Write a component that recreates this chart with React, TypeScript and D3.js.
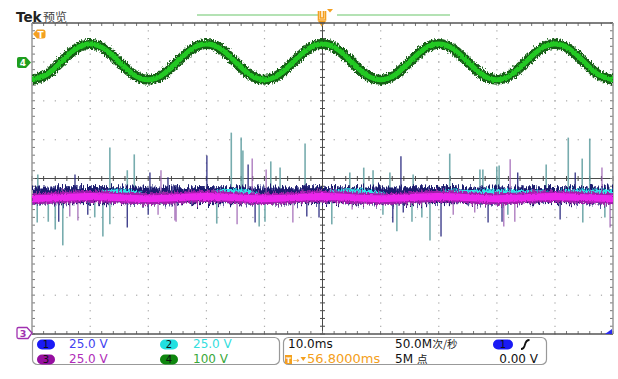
import React from 'react';
import * as d3 from 'd3';

// sample times (ms) for the traces, 10 ms/div, 10 divisions
const sampleTimes = [
  0, 2.5, 5, 7.5, 10, 12.5, 15, 17.5, 20, 22.5, 25, 27.5, 30, 32.5, 35, 37.5, 40,
  42.5, 45, 47.5, 50, 52.5, 55, 57.5, 60, 62.5, 65, 67.5, 70, 72.5, 75, 77.5, 80,
  82.5, 85, 87.5, 90, 92.5, 95, 97.5, 100,
];

// channel 4 (green), volts, 100 V/div, positioned +3 div
const ch4Volts = [
  -46, -33, 0, 33, 46, 33, 0, -33, -46, -33, 0, 33, 46, 33, 0, -33, -46,
  -33, 0, 33, 46, 33, 0, -33, -46, -33, 0, 33, 46, 33, 0, -33, -46,
  -33, 0, 33, 46, 33, 0, -33, -46,
];

// channel 2 (cyan) band level, volts, 25 V/div
const ch2Volts = [
  -12, -12, -12, -12, -12, -9, -8.5, -9, -12, -12, -12, -12, -11, -8.5, -8.3, -9, -12,
  -12, -12, -12, -10, -8.5, -8.3, -8.5, -10, -12, -12, -11, -9.5, -8.5, -9, -8.5, -8.5,
  -8.7, -9, -9, -9.5, -8.5, -8.5, -8.5, -8.7,
];

// coarser samples for channel 1 (navy) and channel 3 (magenta) bands
const coarseTimes = [0, 5, 10, 15, 20, 25, 30, 35, 40, 45, 50, 55, 60, 65, 70, 75, 80, 85, 90, 95, 100];
const ch1Volts = [-11, -10.8, -10.6, -10.8, -11, -10.8, -10.6, -10.8, -11, -10.8, -10.6, -10.8, -11, -10.8, -10.6, -10.8, -11, -10.8, -10.6, -10.8, -11];
const ch3Volts = [-13, -12.3, -11.5, -12.3, -13, -12.3, -11.5, -12.3, -13, -12.3, -11.5, -12.3, -13, -12.3, -11.5, -12.3, -13, -12.3, -11.5, -12.3, -13];

// glitches: [time ms, tip volts]
const ch2Spikes = [
  [13.4, 20], [17.6, 15.5], [16.4, 5.3], [1.0, 2.5], [34.3, 29.5], [36.0, 26.3], [36.3, 18],
  [41.1, 11], [42.7, 7], [47.0, 22.5], [71.9, 16], [57.1, 7], [58.7, 5.3], [54.7, 3.8],
  [61.6, 3.8], [65.6, 2.5], [92.3, 26.3], [96.0, 25.7], [94.7, 12.8], [88.5, 9], [77.1, 5.8],
  [77.6, 5.8], [80.0, 7.7], [80.4, 8.3],
  [5.3, -43], [4.0, -32.8], [2.8, -27.8], [0.9, -28.3], [12.2, -37.3], [10.8, -25], [13.4, -29.5],
  [31.8, -29], [39.1, -30.8], [40.1, -27.8], [68.5, -39.8], [62.8, -34], [51.6, -29.5],
  [65.4, -27.8], [67.1, -25], [60.4, -23.3], [94.8, -28.3], [81.9, -23.3], [98.6, -25],
];
const ch1Spikes = [
  [7.4, 2.5], [20.3, 3.8], [30.1, 14.8], [37.2, 9], [63.5, 14.3], [83.6, 3.8], [93.5, 3.8], [23.4, 0.8],
  [4.6, -27.8], [9.6, -23.3], [16.4, -31.5], [20.0, -23.3], [38.4, -28.3], [47.3, -24.5], [49.4, -25],
  [70.4, -37.3], [62.1, -28.3], [63.9, -21.8], [78.5, -28.3], [80.9, -27.8], [90.9, -26.3],
];
const ch3Spikes = [
  [22.2, 5.3], [37.9, 12.8], [40.3, 5.8], [82.3, 12.3], [98.1, 7],
  [7.9, -27], [6.5, -24.5], [21.7, -23.3], [24.8, -27.8], [35.3, -29.5], [24.6, -27], [44.9, -28.3],
  [55.1, -20], [72.5, -23.3], [81.2, -30.8], [83.1, -27.8], [99.5, -31.5], [76.2, -21.8],
];

const W = 618;
const H = 379;
const plot = { left: 32, right: 613, top: 23, bottom: 334 };

const x = d3.scaleLinear().domain([0, 100]).range([plot.left, plot.right]);
const y = d3.scaleLinear().domain([-4, 4]).range([plot.bottom, plot.top]); // divisions

const toDiv = (v: number, vPerDiv: number, offset = 0) => v / vPerDiv + offset;

const trace = (times: number[], vals: number[], vPerDiv: number, offset = 0) =>
  d3.line<number>()
    .x((_, i) => x(times[i]))
    .y((v) => y(toDiv(v, vPerDiv, offset)))
    .curve(d3.curveNatural)(vals) as string;

const fontUI = 'DejaVu Sans, Verdana, sans-serif';
const fontCJK = '"Noto Sans CJK SC", "DejaVu Sans", sans-serif';

export default function App() {
  const divTimes = d3.range(10, 100, 10);
  const divLevels = [-3, -2, -1, 1, 2, 3];
  const subY = d3.range(-4, 4.001, 0.2);
  const subX = d3.range(0, 100.001, 2);

  const spikeLines = (spikes: number[][], base: number, color: string, op: number, w: number) =>
    spikes.map(([t, v], i) => (
      <line key={i} x1={x(t)} x2={x(t)} y1={y(toDiv(base, 25))} y2={y(toDiv(v, 25))}
        stroke={color} strokeWidth={w} strokeOpacity={op} />
    ));

  const ch1Path = trace(coarseTimes, ch1Volts, 25);
  const ch3Path = trace(coarseTimes, ch3Volts, 25);
  const ch4Path = trace(sampleTimes, ch4Volts, 100, 3);

  return (
    <svg width={W} height={H} style={{ position: 'absolute', left: 0, top: 0, background: '#fff' }}
      fontFamily={fontUI}>
      <defs>
        <clipPath id="plotClip">
          <rect x={plot.left} y={plot.top} width={plot.right - plot.left} height={plot.bottom - plot.top} />
        </clipPath>
        <filter id="fuzzS" filterUnits="userSpaceOnUse" x="0" y="0" width={W} height={H}>
          <feTurbulence type="fractalNoise" baseFrequency="0.9 0.5" numOctaves="2" seed="3" result="n" />
          <feDisplacementMap in="SourceGraphic" in2="n" scale="3" xChannelSelector="R" yChannelSelector="G" />
        </filter>
        <filter id="fuzzM" filterUnits="userSpaceOnUse" x="0" y="0" width={W} height={H}>
          <feTurbulence type="fractalNoise" baseFrequency="0.8 0.4" numOctaves="2" seed="7" result="n" />
          <feDisplacementMap in="SourceGraphic" in2="n" scale="6" xChannelSelector="R" yChannelSelector="G" />
        </filter>
        <filter id="hair" filterUnits="userSpaceOnUse" x="0" y="0" width={W} height={H}>
          <feTurbulence type="fractalNoise" baseFrequency="1.4 0.06" numOctaves="3" seed="11" result="n" />
          <feDisplacementMap in="SourceGraphic" in2="n" scale="20" xChannelSelector="B" yChannelSelector="G" />
        </filter>
        <filter id="hair2" filterUnits="userSpaceOnUse" x="0" y="0" width={W} height={H}>
          <feTurbulence type="fractalNoise" baseFrequency="1.2 0.05" numOctaves="3" seed="23" result="n" />
          <feDisplacementMap in="SourceGraphic" in2="n" scale="14" xChannelSelector="B" yChannelSelector="G" />
        </filter>
      </defs>

      {/* header */}
      <text x={16} y={22} fontSize={13.5} fontWeight="bold" fill="#222">Tek</text>
      <text x={43} y={21.5} fontSize={12} fill="#444" fontFamily={fontCJK}>预览</text>

      {/* record / trigger position bar */}
      <line x1={197} x2={318} y1={15} y2={15} stroke="#b4e2b4" strokeWidth={2} />
      <line x1={337} x2={450} y1={15} y2={15} stroke="#b4e2b4" strokeWidth={2} />
      <path d="M318.5,11 L318.5,20 L325.5,20 L325.5,11 M320.5,11 L320.5,18 L323.5,18 L323.5,11" fill="none" stroke="#f4a020" strokeWidth={1.6} />
      <path d="M318,21 L326,21 L322,27 Z" fill="#f4a020" />
      <path d="M327,9 L333,9 L330,12.5 Z" fill="#f4a020" />

      {/* graticule dots */}
      <g fill="#a8a8a8">
        {divTimes.filter((t) => t !== 50).map((t) =>
          subY.map((v) => <rect key={`v${t}_${v}`} x={x(t) - 0.5} y={y(v) - 0.5} width={1.2} height={1.2} />))}
        {divLevels.map((lv) =>
          subX.map((t) => <rect key={`h${lv}_${t}`} x={x(t) - 0.5} y={y(lv) - 0.5} width={1.2} height={1.2} />))}
      </g>

      {/* center crosshair */}
      <g stroke="#4a4a4a" strokeWidth={1}>
        <line x1={plot.left} x2={plot.right} y1={y(0)} y2={y(0)} />
        <line x1={x(50)} x2={x(50)} y1={plot.top} y2={plot.bottom} />
        {subX.map((t) => <line key={`cx${t}`} x1={x(t)} x2={x(t)} y1={y(0) - 2.5} y2={y(0) + 2.5} />)}
        {subY.map((v) => <line key={`cy${v}`} x1={x(50) - 2.5} x2={x(50) + 2.5} y1={y(v)} y2={y(v)} />)}
      </g>

      {/* frame with edge ticks */}
      <g stroke="#777" strokeWidth={1}>
        {subX.map((t) => <line key={`tt${t}`} x1={x(t)} x2={x(t)} y1={plot.top} y2={plot.top + 3} />)}
        {subX.map((t) => <line key={`tb${t}`} x1={x(t)} x2={x(t)} y1={plot.bottom - 3} y2={plot.bottom} />)}
        {subY.map((v) => <line key={`tl${v}`} x1={plot.left} x2={plot.left + 3} y1={y(v)} y2={y(v)} />)}
        {subY.map((v) => <line key={`tr${v}`} x1={plot.right - 3} x2={plot.right} y1={y(v)} y2={y(v)} />)}
      </g>
      <line x1={plot.left} x2={plot.right} y1={plot.top} y2={plot.top} stroke="#555" strokeWidth={1.5} />
      <line x1={plot.left} x2={plot.right} y1={plot.bottom} y2={plot.bottom} stroke="#555" strokeWidth={1.5} />
      <line x1={plot.left} x2={plot.left} y1={plot.top} y2={plot.bottom} stroke="#999" strokeWidth={1.5} />
      <line x1={plot.right} x2={plot.right} y1={plot.top} y2={plot.bottom} stroke="#999" strokeWidth={1.5} />

      {/* waveforms */}
      <g clipPath="url(#plotClip)">
        {spikeLines(ch2Spikes, -9.5, '#5f9ea0', 0.85, 1.6)}
        <path d={ch1Path} fill="none" stroke="#3a3a8c" strokeWidth={12} strokeOpacity={0.85} filter="url(#hair)" />
        <path d={ch1Path} fill="none" stroke="#1c1c6e" strokeWidth={16} filter="url(#hair2)" />
        {spikeLines(ch1Spikes, -10.5, '#2a2a80', 0.9, 1.4)}
        <path d={trace(sampleTimes, ch2Volts, 25)} fill="none" stroke="#2ee6e6" strokeWidth={4.5} filter="url(#fuzzM)" />
        {spikeLines(ch3Spikes, -12, '#9a5cb0', 0.8, 1.4)}
        <path d={ch3Path} fill="none" stroke="#8e3c9e" strokeWidth={9} filter="url(#hair2)" />
        <path d={ch3Path} fill="none" stroke="#a31cad" strokeWidth={11} filter="url(#fuzzM)" />
        <path d={ch3Path} fill="none" stroke="#ec28ec" strokeWidth={7} filter="url(#fuzzS)" />

        <path d={ch4Path} fill="none" stroke="#165f16" strokeWidth={10} filter="url(#fuzzM)" />
        <path d={ch4Path} fill="none" stroke="#22c922" strokeWidth={5} filter="url(#fuzzS)" />
      </g>

      {/* trigger level marker */}
      <path d="M33,34 L37,29.5 L43,29.5 Q45.5,29.5 45.5,32 L45.5,36 Q45.5,38.5 43,38.5 L37,38.5 Z" fill="#f4a020" />
      <text x={40.5} y={37.5} fontSize={9} fontWeight="bold" fill="#fff" textAnchor="middle">T</text>

      {/* channel 4 marker */}
      <path d="M17,59 Q17,57 19,57 L26,57 L31,62.5 L26,68 L19,68 Q17,68 17,66 Z" fill="#1f9e1f" />
      <text x={23} y={66} fontSize={9} fontWeight="bold" fill="#fff" textAnchor="middle">4</text>

      {/* channel 3 marker */}
      <path d="M17,329 Q17,327.5 18.5,327.5 L27,327.5 L32,333 L28,338.5 L18.5,338.5 Q17,338.5 17,337 Z" fill="#fff" stroke="#a030b0" strokeWidth={1.3} />
      <text x={23} y={337} fontSize={9.5} fontWeight="bold" fill="#a030b0" textAnchor="middle">3</text>

      {/* ch1 trigger corner mark */}
      <path d="M605,334 L612,334 L612,329 Z" fill="#2a2af0" />

      {/* vertical settings box */}
      <rect x={32.5} y={337.5} width={247} height={27} rx={5} fill="#fff" stroke="#999" strokeWidth={1.2} />
      <rect x={37} y={339.5} width={18} height={10} rx={5} fill="#1a1af5" />
      <text x={46} y={348} fontSize={10} fill="#111" textAnchor="middle">1</text>
      <text x={69} y={348} fontSize={12} fill="#4343f0">25.0 V</text>
      <rect x={160} y={339.5} width={18} height={10} rx={5} fill="#22e0e0" />
      <text x={169} y={348} fontSize={10} fill="#111" textAnchor="middle">2</text>
      <text x={193} y={348} fontSize={12} fill="#34dede">25.0 V</text>
      <rect x={37} y={354.5} width={18} height={10} rx={5} fill="#960fa0" />
      <text x={46} y={363} fontSize={10} fill="#111" textAnchor="middle">3</text>
      <text x={69} y={363} fontSize={12} fill="#b02cb8">25.0 V</text>
      <rect x={160} y={354.5} width={18} height={10} rx={5} fill="#0f870f" />
      <text x={169} y={363} fontSize={10} fill="#111" textAnchor="middle">4</text>
      <text x={193} y={363} fontSize={12} fill="#3aa83a">100 V</text>

      {/* horizontal / trigger box */}
      <rect x={283.5} y={337.5} width={263} height={27} rx={5} fill="#fff" stroke="#999" strokeWidth={1.2} />
      <text x={288} y={348} fontSize={12} fill="#111">10.0ms</text>
      <text x={395} y={348} fontSize={12} fill="#111">50.0M</text>
      <text x={432.5} y={347.5} fontSize={10.5} fill="#222" fontFamily={fontCJK}>次/秒</text>
      <rect x={493} y={339.5} width={20} height={10} rx={5} fill="#1a1af5" />
      <text x={503} y={348} fontSize={10} fill="#111" textAnchor="middle">1</text>
      <path d="M521,349 Q524,349 525,344.5 Q526,340 529.5,340" fill="none" stroke="#111" strokeWidth={1.8} />
      <rect x={285} y={355} width={7} height={9} fill="#f4a020" />
      <text x={288.5} y={362.5} fontSize={7.5} fontWeight="bold" fill="#fff" textAnchor="middle">T</text>
      <text x={293} y={362.5} fontSize={8} fill="#f4a020">→</text>
      <path d="M300.5,357 L306,357 L303.25,361 Z" fill="#f4a020" />
      <text x={307} y={363} fontSize={13} fill="#f4a020">56.8000ms</text>
      <text x={395} y={363} fontSize={12} fill="#111">5M</text>
      <text x={417} y={362.5} fontSize={10.5} fill="#222" fontFamily={fontCJK}>点</text>
      <text x={538} y={363} fontSize={12} fill="#111" textAnchor="end">0.00 V</text>
    </svg>
  );
}
